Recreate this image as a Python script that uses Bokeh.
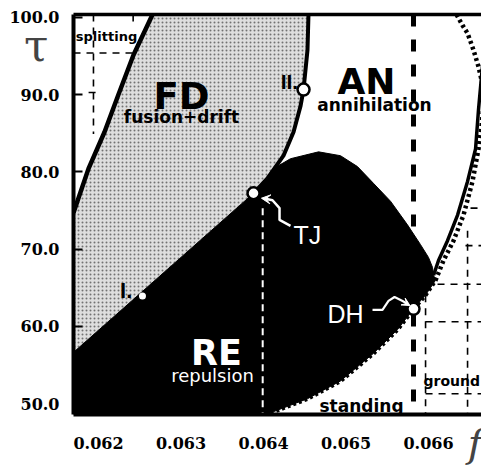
from bokeh.plotting import figure
from bokeh.models import Range1d, LinearAxis, FixedTicker, Arrow, VeeHead
from bokeh.core.properties import value
from bokeh.embed import file_html
from bokeh.resources import INLINE

# ---- axes ----
x_ticks = [0.062, 0.063, 0.064, 0.065, 0.066]
x_tick_labels = ["0.062", "0.063", "0.064", "0.065", "0.066"]
y_ticks = [50, 60, 70, 80, 90, 100]
y_tick_labels = ["50.0", "60.0", "70.0", "80.0", "90.0", "100.0"]

# ---- boundaries (f, tau) ----
split_x = [0.061697, 0.061879, 0.062073, 0.062242, 0.062424, 0.062655, 0.06269]
split_y = [74.7, 80.43, 85.17, 90.03, 95.14, 100.38, 101.2]

fdre_x = [0.06160, 0.063879]
fdre_y = [55.73, 77.24]

fdan_x = [0.063879, 0.064048, 0.064242, 0.064364, 0.064448, 0.064485, 0.064533, 0.064545, 0.06455]
fdan_y = [77.24, 79.16, 82.10, 85.17, 88.49, 90.66, 95.78, 100.38, 101.2]

retop_x = [0.063879, 0.063964, 0.064121, 0.064327, 0.064667, 0.064933, 0.065139, 0.065333,
           0.065539, 0.065745, 0.065903, 0.066000, 0.066048, 0.066061]
retop_y = [77.24, 78.26, 80.43, 81.71, 82.60, 82.10, 80.69, 78.52,
           76.21, 73.15, 70.59, 68.93, 67.65, 66.62]

dot_x = [0.066339, 0.066412, 0.066473, 0.066545, 0.066606, 0.066655, 0.066667, 0.066642,
         0.066606, 0.066533, 0.066424, 0.066303, 0.066182, 0.066085, 0.065964, 0.065818,
         0.065624, 0.065333, 0.064933, 0.064533, 0.064061]
dot_y = [100.38, 98.98, 97.95, 95.78, 93.61, 91.30, 88.75, 85.93,
         82.99, 78.77, 74.42, 71.10, 68.54, 65.98, 64.07, 62.28,
         59.59, 56.52, 52.94, 50.64, 48.72]

solid_x = [0.066667, 0.066642, 0.066606, 0.066570, 0.066473, 0.066352, 0.066230, 0.066121, 0.066061]
solid_y = [95.14, 92.33, 88.11, 82.99, 78.77, 74.42, 71.10, 68.54, 66.62]

hopf_f = 0.065818       # thick dashed vertical
tj_f = 0.06399          # thin dashed vertical

# special points
pt_names = ["I", "TJ", "II", "DH"]
pt_x = [0.062533, 0.063879, 0.064485, 0.065818]
pt_y = [63.94, 77.24, 90.66, 62.28]

# inset grids (thin dashed)
split_grid_x = [[0.061939, 0.061939], [0.061697, 0.06242], [0.06188, 0.06200], [0.06242, 0.06242]]
split_grid_y = [[100.38, 84.91], [95.40, 95.40], [90.28, 90.28], [100.38, 99.2]]
ground_grid_x = [[0.065964, 0.065964], [0.066473, 0.066473], [0.066109, 0.06665], [0.066448, 0.06665],
                 [0.066509, 0.06665], [0.065964, 0.06665], [0.065964, 0.06665]]
ground_grid_y = [[65.73, 48.6], [72.38, 48.6], [65.47, 65.47], [70.46, 70.46],
                 [75.32, 75.32], [60.61, 60.61], [51.28, 51.28]]

X0, X1 = 0.061697, 0.066642
Y0, Y1 = 48.6, 100.38

p = figure(width=481, height=468, output_backend="svg", toolbar_location=None,
           x_range=Range1d(X0, X1), y_range=Range1d(Y0, Y1),
           min_border_left=73, min_border_right=0, min_border_top=14, min_border_bottom=49)
p.grid.visible = False
p.outline_line_color = None
p.background_fill_color = "white"

# stipple FD region
fd_poly_x = fdre_x + fdan_x[1:] + split_x[::-1] + [0.06160]
fd_poly_y = fdre_y + fdan_y[1:] + split_y[::-1] + [72.0]
p.patch(fd_poly_x, fd_poly_y, fill_color="#dedede", line_color=None,
        hatch_pattern="dot", hatch_scale=4, hatch_color="#444444", hatch_weight=1.0, hatch_alpha=0.7)

# black RE region
re_x = [0.06160] + fdre_x[1:] + retop_x[1:] + dot_x[13:] + [0.064061, 0.06160]
re_y = [55.73] + fdre_y[1:] + retop_y[1:] + dot_y[13:] + [47.5, 47.5]
p.patch(re_x, re_y, fill_color="black", line_color="black", line_width=1)

# inset dashed grids
p.multi_line(split_grid_x, split_grid_y, line_color="black", line_width=1.6, line_dash="7 6")
p.multi_line(ground_grid_x, ground_grid_y, line_color="black", line_width=1.6, line_dash="7 6")

# boundaries
p.line(split_x, split_y, line_color="black", line_width=4.5)
p.line(fdan_x, fdan_y, line_color="black", line_width=4)
p.line(solid_x, solid_y, line_color="black", line_width=3.5)
p.line(dot_x, dot_y, line_color="black", line_width=4.5, line_dash="3 3")
p.line([hopf_f, hopf_f], [Y1, Y0], line_color="black", line_width=5, line_dash="12 13")
p.line([tj_f, tj_f], [75.3, Y0], line_color="white", line_width=2, line_dash="7 5")

# arrows to TJ and DH
tj_arrow_x = [0.064327, 0.064194, 0.064194, 0.064109, 0.064010]
tj_arrow_y = [73.02, 73.79, 75.32, 76.34, 76.55]
p.line(tj_arrow_x, tj_arrow_y, line_color="white", line_width=2.5)
p.add_layout(Arrow(x_start=0.064050, y_start=76.50, x_end=0.063975, y_end=76.60,
                   end=VeeHead(size=9, fill_color="white", line_color="white"),
                   line_color="white", line_width=2.5))
dh_arrow_x = [0.065321, 0.065442, 0.065515, 0.065588, 0.065685, 0.065740]
dh_arrow_y = [62.15, 62.15, 63.30, 63.81, 63.30, 62.95]
p.line(dh_arrow_x, dh_arrow_y, line_color="white", line_width=2.2)
p.add_layout(Arrow(x_start=0.065720, y_start=63.05, x_end=0.065775, y_end=62.70,
                   end=VeeHead(size=8, fill_color="white", line_color="white"),
                   line_color="white", line_width=2))

# points
p.scatter([pt_x[0]], [pt_y[0]], size=7, fill_color="white", line_color=None)
p.scatter(pt_x[1:], pt_y[1:], size=12, fill_color="white", line_color="black", line_width=2.5)

SANS = value("DejaVu Sans")
ARIAL = value("Liberation Sans")

def txt(x, y, s, size, color="black", font=SANS, style="bold", align="center"):
    p.text([x], [y], text=[s], text_font=font, text_font_size=f"{size}px",
           text_font_style=style, text_color=color, text_align=align, text_baseline="alphabetic")

txt(0.063006, 89.77, "FD", 37)
txt(0.063006, 87.10, "fusion+drift", 17)
txt(0.065248, 91.69, "AN", 36)
txt(0.065345, 88.62, "annihilation", 17)
txt(0.063430, 56.52, "RE", 35, color="white")
txt(0.063382, 53.60, "repulsion", 18, color="white", style="normal")
txt(0.065188, 49.74, "standing", 17)
txt(0.065939, 52.94, "ground", 14, align="left")
txt(0.062097, 97.5, "splitting", 13)
txt(0.064420, 91.69, "II.", 21, font=ARIAL, align="right")
txt(0.062410, 64.7, "I.", 22, font=ARIAL, align="right")
txt(0.064364, 71.87, "TJ", 25, color="white", font=ARIAL, style="normal", align="left")
txt(0.064776, 61.64, "DH", 25, color="white", font=ARIAL, style="normal", align="left")

# axes styling
for ax in (p.xaxis[0], p.yaxis[0]):
    ax.axis_line_width = 4
    ax.axis_line_color = "black"
    ax.major_label_text_font = "DejaVu Serif"
    ax.major_label_text_font_style = "bold"
    ax.major_label_text_font_size = "16px"
    ax.major_label_text_color = "black"
    ax.minor_tick_line_color = None
    ax.major_tick_out = 0

p.xaxis.ticker = FixedTicker(ticks=x_ticks)
p.xaxis.major_label_overrides = {t: l for t, l in zip(x_ticks, x_tick_labels)}
p.xaxis.major_tick_in = 0
p.xaxis.major_label_standoff = 22

p.yaxis.ticker = FixedTicker(ticks=y_ticks)
p.yaxis.major_label_overrides = {t: l for t, l in zip(y_ticks, y_tick_labels)}
p.yaxis.major_tick_in = 9
p.yaxis.major_tick_line_width = 2
p.yaxis.major_label_standoff = 14

# axis titles: tau near the top of the left axis, f at right end of the bottom axis
p.yaxis.axis_label = " \nτ"
p.yaxis.axis_label_text_font = "DejaVu Serif"
p.yaxis.axis_label_text_font_size = "44px"
p.yaxis.axis_label_text_font_style = "normal"
p.yaxis.axis_label_text_baseline = "top"
p.yaxis.axis_label_orientation = "horizontal"
p.yaxis.axis_label_standoff = -42
p.yaxis.axis_label_align = "end"
p.xaxis.axis_label = "f "
p.xaxis.axis_label_text_font = "DejaVu Serif"
p.xaxis.axis_label_text_font_size = "40px"
p.xaxis.axis_label_text_font_style = "italic"
p.xaxis.axis_label_standoff = -32
p.xaxis.axis_label_align = "end"

top = LinearAxis(ticker=FixedTicker(ticks=[]), major_label_text_font_size="0px",
                 axis_line_width=3.5, major_tick_in=0, major_tick_out=0, minor_tick_line_color=None)
p.add_layout(top, "above")

open("out.html", "w").write(file_html(p, INLINE))
